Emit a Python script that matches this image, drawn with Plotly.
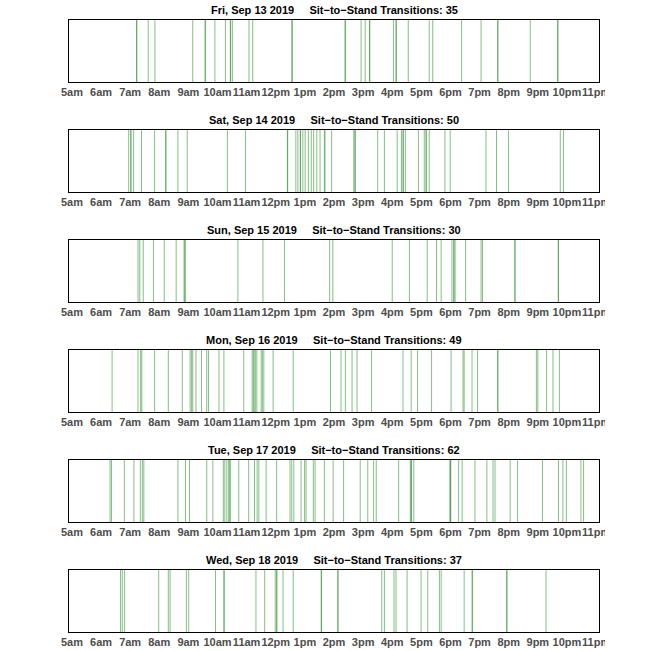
import plotly.graph_objects as go
from plotly.subplots import make_subplots

# transition times, decimal hours after midnight
day_labels = ["Fri, Sep 13 2019", "Sat, Sep 14 2019", "Sun, Sep 15 2019",
              "Mon, Sep 16 2019", "Tue, Sep 17 2019", "Wed, Sep 18 2019"]

fri_sep13 = [7.22, 7.23, 7.62, 7.85, 9.15, 9.57, 9.59, 9.91, 10.27, 10.44, 10.45, 10.51,
             11.08, 11.21, 12.55, 12.57, 14.38, 14.39, 14.93, 15.07, 15.22, 15.23, 16.04,
             16.13, 16.14, 16.55, 17.27, 17.39, 18.38, 19.05, 19.62, 19.63, 20.74, 21.68, 21.69]
sat_sep14 = [6.95, 7.02, 7.03, 7.12, 7.39, 7.84, 8.22, 8.23, 8.64, 8.96, 10.34, 10.96,
             12.40, 12.41, 12.69, 12.76, 12.84, 12.85, 12.93, 13.01, 13.12, 13.22, 13.30,
             13.41, 13.52, 13.67, 13.69, 13.92, 14.68, 14.72, 14.73, 15.50, 15.73, 16.17,
             16.32, 16.37, 16.38, 16.45, 16.90, 17.10, 17.16, 17.17, 17.27, 17.81, 17.99,
             19.22, 19.58, 19.99, 21.77, 21.88]
sun_sep15 = [7.27, 7.33, 7.45, 7.80, 8.17, 8.58, 8.85, 8.88, 8.89, 10.70, 11.56, 12.30,
             13.85, 13.96, 16.00, 16.59, 17.20, 17.52, 17.68, 18.05, 18.11, 18.12, 18.16,
             18.52, 19.05, 19.10, 20.21, 20.22, 21.70, 21.71]
mon_sep16 = [6.38, 7.27, 7.36, 7.40, 7.84, 8.31, 8.79, 9.06, 9.11, 9.15, 9.26, 9.45, 9.63,
             9.69, 10.05, 10.22, 10.90, 11.19, 11.23, 11.26, 11.30, 11.35, 11.50, 11.54,
             11.59, 11.91, 12.60, 13.88, 14.24, 14.39, 14.62, 14.79, 15.29, 16.37, 16.65,
             16.87, 17.35, 18.02, 18.43, 18.47, 18.74, 18.93, 19.62, 19.63, 20.95, 21.00,
             21.30, 21.52, 21.74]
tue_sep17 = [6.31, 6.36, 6.80, 7.13, 7.35, 7.42, 7.47, 8.64, 8.90, 9.04, 9.63, 9.84, 10.20,
             10.25, 10.32, 10.39, 10.40, 10.44, 10.73, 11.07, 11.27, 11.36, 11.42, 11.67,
             12.03, 12.49, 12.55, 12.62, 12.87, 12.99, 13.04, 13.29, 13.35, 13.67, 13.97,
             14.33, 14.90, 15.16, 15.36, 15.45, 16.22, 16.62, 16.65, 16.66, 16.74, 17.98,
             18.00, 18.01, 18.28, 18.40, 18.84, 19.25, 19.46, 19.53, 20.05, 20.30, 21.16,
             21.71, 21.86, 21.98, 22.48, 22.57]
wed_sep18 = [6.67, 6.73, 6.81, 7.98, 8.31, 8.37, 8.93, 9.01, 9.93, 10.22, 10.23, 11.32,
             11.62, 11.98, 12.03, 12.04, 12.25, 12.60, 13.56, 13.57, 14.13, 14.14, 15.64,
             15.73, 16.06, 16.13, 16.51, 16.99, 17.22, 17.62, 17.68, 18.47, 18.74, 18.76,
             19.93, 19.94, 21.28]

tick_hours = list(range(5, 24))
tick_text = ["5am", "6am", "7am", "8am", "9am", "10am", "11am", "12pm", "1pm", "2pm",
             "3pm", "4pm", "5pm", "6pm", "7pm", "8pm", "9pm", "10pm", "11pm"]

days = [fri_sep13, sat_sep14, sun_sep15, mon_sep16, tue_sep17, wed_sep18]

fig = make_subplots(rows=6, cols=1, vertical_spacing=48 / 612)

for i, (label, times) in enumerate(zip(day_labels, days)):
    row = i + 1
    xs, ys = [], []
    for t in times:
        xs += [t, t, None]
        ys += [0, 1, None]
    fig.add_trace(go.Scatter(
        x=xs, y=ys, mode="lines",
        line=dict(color="rgba(34,139,34,0.55)", width=1),
        showlegend=False, hoverinfo="skip"
    ), row=row, col=1)

    title = label + "\u00a0" * 5 + "Sit\u2212to\u2212Stand Transitions: " + str(len(times))
    yref = "y domain" if row == 1 else "y%d domain" % row
    fig.add_annotation(
        text=title, xref="paper", x=0.5, yref=yref, y=1,
        yanchor="middle", yshift=10, showarrow=False,
        font=dict(family="Liberation Sans", size=11, color="black", weight="bold")
    )

    fig.update_xaxes(
        range=[4.9, 23.1], tickvals=tick_hours, ticktext=tick_text, tickangle=0,
        showgrid=False, zeroline=False, showline=True, mirror=True,
        linecolor="black", linewidth=1, automargin=False, ticks="",
        tickfont=dict(family="Liberation Sans", size=11, color="#4D4D4D", weight="bold"),
        row=row, col=1
    )
    fig.update_yaxes(
        range=[0, 1], showticklabels=False, showgrid=False, zeroline=False,
        showline=True, mirror=True, linecolor="black", linewidth=1, automargin=False,
        row=row, col=1
    )

# the last tick label is cut off at the right in the original
fig.add_shape(type="rect", xref="paper", yref="paper",
              x0=(605 - 69) / 530, x1=1.3, y0=-0.1, y1=1.05,
              fillcolor="white", line=dict(width=0), layer="above")

fig.update_layout(
    width=666, height=651,
    margin=dict(l=69, r=67, t=20, b=19, autoexpand=False),
    plot_bgcolor="white", paper_bgcolor="white"
)

# page fits the window exactly: no body margin, no scrolling
page_fix = ("document.documentElement.style.margin = '0';"
            "document.documentElement.style.overflow = 'hidden';"
            "document.body.style.margin = '0';"
            "document.body.style.overflow = 'hidden';")
fig.write_html("out.html", config={"displayModeBar": False}, post_script=page_fix)
